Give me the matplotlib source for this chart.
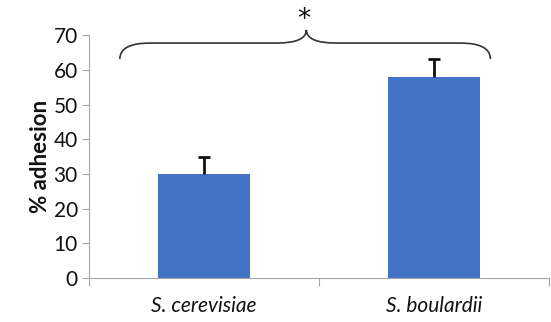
import numpy as np
import matplotlib
matplotlib.use("Agg")
import matplotlib.pyplot as plt
from matplotlib.path import Path
from matplotlib.patches import PathPatch

strains = ["S. cerevisiae", "S. boulardii"]
adhesion = [30, 58]
adhesion_err = [5, 5]
y_ticks = [0, 10, 20, 30, 40, 50, 60, 70]

plt.rcParams["font.family"] = ["Lato", "DejaVu Sans"]

fig = plt.figure(figsize=(5.51, 3.22), dpi=100)
ax = fig.add_axes([0.1615, 0.1366, 0.835, 0.7544])

x = np.arange(len(strains))
ax.bar(x, adhesion, width=0.4, color="#4472C4", zorder=2)
_, caps, _ = ax.errorbar(x, adhesion, yerr=[[0, 0], adhesion_err], fmt="none",
                         ecolor="#111111", elinewidth=2, capsize=4.5,
                         capthick=2, zorder=3)
# plus-only error bars: hide the cap sitting on the bar top
caps[0].set_visible(False)

ax.set_xlim(-0.5, 1.5)
ax.set_ylim(0, 70)
ax.set_yticks(y_ticks)
ax.set_xticks([-0.5, 0.5, 1.5])
ax.set_xticklabels([])
for xi, name in zip(x, strains):
    ax.text(xi, -0.075, name, transform=ax.get_xaxis_transform(),
            ha="center", va="top", style="italic", fontsize=15, color="#111111")

for side in ["top", "right"]:
    ax.spines[side].set_visible(False)
for side in ["left", "bottom"]:
    ax.spines[side].set_color("#a6a6a6")
ax.tick_params(axis="y", length=5, color="#a6a6a6", labelsize=15,
               labelcolor="#111111", pad=3)
ax.tick_params(axis="x", length=6, color="#a6a6a6")
ax.set_ylabel("% adhesion", fontsize=16, fontweight="bold", labelpad=2,
              color="#111111")

# curly brace over both bars with the significance star
x0, x1, xm = -0.366, 1.245, 0.445
yb, yt, yc = 63.1, 67.7, 71.5
dx = 0.13
verts = [
    (x0, yb), (x0, yt), (x0 + dx, yt),
    (xm - dx, yt),
    (xm, yt), (xm, yc),
    (xm, yt), (xm + dx, yt),
    (x1 - dx, yt),
    (x1, yt), (x1, yb),
]
codes = [Path.MOVETO, Path.CURVE3, Path.CURVE3, Path.LINETO,
         Path.CURVE3, Path.CURVE3, Path.CURVE3, Path.CURVE3,
         Path.LINETO, Path.CURVE3, Path.CURVE3]
ax.add_patch(PathPatch(Path(verts, codes), fill=False, lw=1.2,
                       edgecolor="#333333", clip_on=False))
ax.text(xm - 0.01, 70.5, "*", ha="center", va="bottom", fontsize=19,
        color="#111111", family="DejaVu Sans")

fig.savefig("out.png", dpi=100)
